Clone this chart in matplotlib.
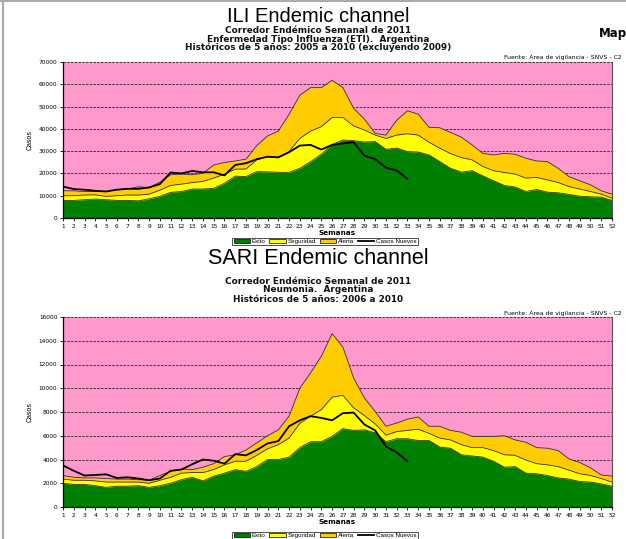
import numpy as np
import matplotlib
matplotlib.use('Agg')
import matplotlib.pyplot as plt
from matplotlib.patches import Patch
from matplotlib.lines import Line2D

plt.rcParams['font.family'] = ['Liberation Sans', 'DejaVu Sans']

weeks = np.arange(1, 53)

# ILI (ETI)
ili_exito = [7900, 7900, 8200, 8500, 8200, 7900, 7900, 7700, 8600, 9700,
             11500, 11900, 13000, 13000, 13300, 15600, 18800, 18600, 20800, 20700,
             20500, 20500, 22300, 25300, 28600, 33000, 35000, 34700, 34100, 34300,
             30800, 31400, 29800, 29600, 28300, 25300, 22300, 20600, 21200, 18900,
             16700, 14600, 13900, 11900, 12800, 11600, 11300, 10600, 9800, 9500,
             9400, 7900]
ili_seguridad = [10000, 10000, 10300, 10400, 9700, 10000, 10300, 10300, 10700, 12500,
                 14600, 15200, 15900, 16400, 17900, 19700, 21900, 22000, 26100, 27500,
                 27200, 29800, 35700, 39000, 41000, 45100, 45100, 41300, 39500, 37200,
                 35700, 37200, 37800, 37200, 34000, 31300, 28900, 27100, 26100, 23100,
                 21200, 20400, 19700, 17900, 18200, 17100, 15900, 14100, 13000, 11900,
                 10700, 8900]
ili_alerta = [12200, 12200, 11900, 11900, 11900, 12700, 13000, 14000, 13700, 16100,
              19400, 19700, 19400, 20100, 23800, 24900, 25600, 26400, 32500, 36800,
              39000, 46500, 55100, 58500, 58500, 61800, 58500, 49200, 44400, 38000,
              37200, 43900, 48100, 46600, 40700, 40500, 38400, 36300, 32800, 29000,
              28300, 29000, 28600, 26800, 25600, 25300, 22300, 18600, 16700, 14900,
              12200, 10700]
ili_casos = [14100, 13000, 12700, 12200, 11900, 12700, 13100, 13100, 13700, 15200,
             20400, 20000, 21100, 20500, 20500, 19100, 23800, 24600, 26400, 27500,
             27200, 29500, 32500, 32800, 30700, 32800, 33500, 34000, 28000, 26400,
             22600, 21300, 17600]

# SARI (Neumonia)
sari_exito = [2000, 1900, 1900, 1800, 1650, 1750, 1750, 1800, 1650, 1800,
              2000, 2300, 2500, 2200, 2600, 2850, 3150, 3000, 3400, 4000,
              4000, 4200, 5000, 5500, 5500, 5950, 6600, 6450, 6500, 6250,
              5500, 5750, 5750, 5600, 5600, 5050, 4950, 4400, 4300, 4200,
              3850, 3350, 3400, 2850, 2800, 2650, 2450, 2350, 2150, 2100,
              1950, 1750]
sari_seguridad = [2350, 2250, 2250, 2200, 2100, 2100, 2100, 2100, 2000, 2250,
                  2500, 2850, 2900, 2900, 3150, 3550, 3850, 3850, 4350, 4900,
                  5250, 5800, 7050, 7650, 8200, 9250, 9400, 8350, 7700, 7000,
                  6050, 6350, 6450, 6550, 6200, 5800, 5650, 5250, 5000, 5000,
                  4750, 4400, 4350, 3950, 3650, 3550, 3400, 3100, 2800, 2650,
                  2400, 2100]
sari_alerta = [2650, 2500, 2450, 2450, 2400, 2350, 2350, 2300, 2250, 2650,
               3000, 3200, 3150, 3350, 3650, 4250, 4400, 4800, 5400, 6000,
               6500, 7650, 10000, 11300, 12700, 14600, 13470, 10860, 9180, 8050,
               6800, 7070, 7400, 7580, 6800, 6800, 6450, 6300, 5950, 5950,
               5950, 6000, 5650, 5450, 5000, 4950, 4750, 4050, 3750, 3300,
               2700, 2600]
sari_casos = [3500, 3050, 2650, 2700, 2750, 2450, 2500, 2400, 2250, 2400,
              3050, 3150, 3600, 4000, 3900, 3650, 4450, 4350, 4800, 5350,
              5550, 6800, 7300, 7650, 7500, 7300, 7900, 7950, 6950, 6450,
              5100, 4600, 3850]

PINK = '#FF99CC'
GREEN = '#008000'
YELLOW = '#FFFF00'
ORANGE = '#FFCC00'

fig = plt.figure(figsize=(6.26, 5.39), dpi=100)
W, H = 626, 539


def fx(px):
    return px / W


def fy(py):
    return 1 - py / H


def channel(ax, exito, seguridad, alerta, casos, ymax, ystep):
    ax.set_facecolor(PINK)
    for top, col in [(alerta, ORANGE), (seguridad, YELLOW), (exito, GREEN)]:
        ax.fill_between(weeks, 0, top, color=col, lw=0, zorder=2)
        ax.plot(weeks, top, color='#333333', lw=0.6, zorder=3)
    ax.plot(weeks[:len(casos)], casos, color='black', lw=1.3, zorder=4)
    ax.set_xlim(1, 52)
    ax.set_ylim(0, ymax)
    ax.set_yticks(np.arange(0, ymax + 1, ystep))
    ax.set_xticks(weeks)
    ax.tick_params(labelsize=4.2, length=2, width=0.6, pad=2, colors='black')
    for lab in ax.get_xticklabels() + ax.get_yticklabels():
        lab.set_family('DejaVu Sans')
    ax.yaxis.grid(True, color='#222222', ls=(0, (3, 1.5)), lw=0.6, zorder=1)
    ax.set_axisbelow(True)
    ax.spines['top'].set_visible(False)
    ax.spines['right'].set_color('#555555')
    ax.spines['right'].set_linewidth(0.8)
    for s in ['left', 'bottom']:
        ax.spines[s].set_linewidth(0.9)
        ax.spines[s].set_zorder(5)
    ax.set_ylabel('Casos', fontsize=5, labelpad=4)
    ax.set_xlabel('Semanas', fontsize=5.2, fontweight='bold', labelpad=0.8,
                  family='DejaVu Sans')


def legend(ax, y):
    handles = [Patch(facecolor=GREEN, edgecolor='black', lw=0.5),
               Patch(facecolor=YELLOW, edgecolor='black', lw=0.5),
               Patch(facecolor=ORANGE, edgecolor='black', lw=0.5),
               Line2D([0], [0], color='black', lw=1.3)]
    labels = ['Exito', 'Seguridad', 'Alerta', 'Casos Nuevos']
    leg = fig.legend(handles, labels, loc='center', bbox_to_anchor=(fx(325), fy(y)),
                     ncol=4, fontsize=4.5, frameon=True, fancybox=False,
                     handlelength=2.6, handleheight=0.6, handletextpad=0.3,
                     columnspacing=0.6, borderpad=0.2, borderaxespad=0)
    leg.get_frame().set_edgecolor('black')
    leg.get_frame().set_linewidth(0.6)


sub = dict(ha='center', va='center', fontsize=6.4, fontweight='bold',
           family='DejaVu Sans', color='#111111')
src = dict(ha='right', va='center', fontsize=4.4, family='DejaVu Sans')

# ILI
ax1 = fig.add_axes([fx(63), fy(218), fx(612) - fx(63), fy(62) - fy(218)])
channel(ax1, ili_exito, ili_seguridad, ili_alerta, ili_casos, 70000, 10000)
legend(ax1, 241.5)

fig.text(fx(318), fy(16), 'ILI Endemic channel', ha='center', va='center', fontsize=14.5)
fig.text(fx(318), fy(30.5), 'Corredor Endémico Semanal de 2011', **sub)
fig.text(fx(318), fy(39), 'Enfermedad Tipo Influenza (ETI).  Argentina', **sub)
fig.text(fx(318), fy(47.5), 'Históricos de 5 años: 2005 a 2010 (excluyendo 2009)', **sub)
fig.text(fx(599), fy(34), 'Map', ha='left', va='center', fontsize=8.5, fontweight='bold',
         family='DejaVu Sans')
fig.text(fx(622), fy(57), 'Fuente: Area de vigilancia - SNVS - C2', **src)

# SARI
ax2 = fig.add_axes([fx(63), fy(507), fx(612) - fx(63), fy(317) - fy(507)])
channel(ax2, sari_exito, sari_seguridad, sari_alerta, sari_casos, 16000, 2000)
legend(ax2, 535.5)

fig.text(fx(318), fy(258), 'SARI Endemic channel', ha='center', va='center', fontsize=15.5)
fig.text(fx(318), fy(281), 'Corredor Endémico Semanal de 2011', **sub)
fig.text(fx(318), fy(290), 'Neumonia.  Argentina', **sub)
fig.text(fx(318), fy(299), 'Históricos de 5 años: 2006 a 2010', **sub)
fig.text(fx(622), fy(313), 'Fuente: Area de vigilancia - SNVS - C2', **src)

# borde gris de la captura
fig.add_artist(Line2D([fx(3), fx(3)], [0, 1], color='#aaaaaa', lw=1.5))
fig.add_artist(Line2D([0, 1], [fy(0.5), fy(0.5)], color='#aaaaaa', lw=1.5))

fig.savefig('out.png', dpi=100)
